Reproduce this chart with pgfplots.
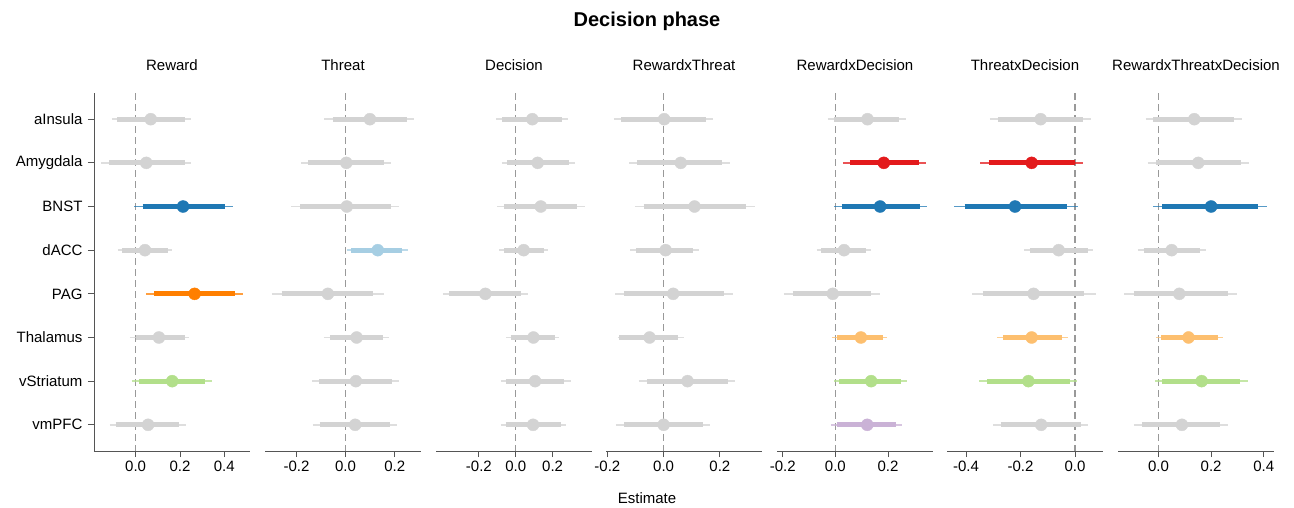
\documentclass[border=0pt]{standalone}
\usepackage{fontspec}
\setmainfont{Liberation Sans}
\usepackage{pgfplots}
\pgfplotsset{compat=1.18}

\definecolor{ngrey}{HTML}{D3D3D3}
\definecolor{nblue}{HTML}{1F78B4}
\definecolor{nred}{HTML}{E31A1C}
\definecolor{norange}{HTML}{FF7F00}
\definecolor{nlgreen}{HTML}{B2DF8A}
\definecolor{nlorange}{HTML}{FDBF6F}
\definecolor{nlblue}{HTML}{A6CEE3}
\definecolor{npurple}{HTML}{CAB2D6}
\definecolor{axisc}{HTML}{555555}
\definecolor{dashc}{HTML}{999999}

% row: y, outer lo, outer hi, inner lo, inner hi, estimate, colour
\newcommand{\fr}[7]{%
  \addplot[#7, no markers, opacity=0.75, line width=1.6pt] coordinates {(#2,#1) (#3,#1)};
  \addplot[#7, no markers, line width=5pt] coordinates {(#4,#1) (#5,#1)};
  \addplot[#7, only marks, mark=*, mark size=6pt] coordinates {(#6,#1)};
}
\newcommand{\zeroline}{%
  \addplot[dashc, no markers, line width=1.1pt, dash pattern=on 7pt off 4pt] coordinates {(0,0.4) (0,8.6)};
}

\pgfplotsset{
  panel/.style={
    scale only axis, width=156pt, height=358pt,
    anchor=south west,
    ymin=0.4, ymax=8.6, y dir=reverse,
    axis x line=bottom,
    axis line style={-, draw=axisc, line width=0.9pt},
    tick align=outside, major tick length=6pt,
    tick style={draw=axisc, line width=0.9pt},
    tick label style={font=\fontsize{15}{18}\selectfont},
    xticklabel style={/pgf/number format/fixed, /pgf/number format/fixed zerofill, /pgf/number format/precision=1},
    /pgf/number format/assume math mode=true,
    title style={font=\fontsize{15}{18}\selectfont, at={(0.5,1)}, anchor=base, yshift=17pt},
    clip=false,
  },
  inner/.style={panel, axis y line=none, ytick=\empty},
}

\begin{document}
\begin{tikzpicture}
\path[use as bounding box] (0,0) rectangle (1294pt,-508pt);

\node[anchor=base, font=\fontsize{20}{24}\selectfont\bfseries] at (647pt,-27pt) {Decision phase};
\node[anchor=base, font=\fontsize{15}{18}\selectfont] at (647pt,-503pt) {Estimate};

% Reward
\begin{axis}[panel, at={(94pt,-451pt)}, title={Reward},
  xmin=-0.188, xmax=0.516, xtick={0,0.2,0.4},
  axis y line=left, ytick={1,...,8},
  y axis line style={-, draw=axisc, line width=0.9pt},
  ytick align=outside, ytick style={draw=axisc, line width=0.9pt},
  yticklabel style={xshift=-2pt},
  yticklabels={aInsula,Amygdala,BNST,dACC,PAG,Thalamus,vStriatum,vmPFC}]
\zeroline
\fr{1}{-0.108}{0.248}{-0.083}{0.224}{0.068}{ngrey}
\fr{2}{-0.156}{0.250}{-0.119}{0.221}{0.048}{ngrey}
\fr{3}{-0.006}{0.438}{0.032}{0.403}{0.214}{nblue}
\fr{4}{-0.081}{0.164}{-0.062}{0.147}{0.042}{ngrey}
\fr{5}{0.047}{0.486}{0.084}{0.450}{0.266}{norange}
\fr{6}{-0.026}{0.239}{0.000}{0.221}{0.105}{ngrey}
\fr{7}{-0.018}{0.343}{0.015}{0.311}{0.165}{nlgreen}
\fr{8}{-0.116}{0.227}{-0.090}{0.197}{0.056}{ngrey}
\end{axis}

% Threat
\begin{axis}[inner, at={(265pt,-451pt)}, title={Threat},
  xmin=-0.328, xmax=0.307, xtick={-0.2,0,0.2}]
\zeroline
\fr{1}{-0.087}{0.279}{-0.053}{0.249}{0.099}{ngrey}
\fr{2}{-0.181}{0.185}{-0.151}{0.155}{0.003}{ngrey}
\fr{3}{-0.222}{0.216}{-0.185}{0.184}{0.005}{ngrey}
\fr{4}{0.007}{0.254}{0.023}{0.230}{0.131}{nlblue}
\fr{5}{-0.301}{0.156}{-0.260}{0.113}{-0.072}{ngrey}
\fr{6}{-0.088}{0.177}{-0.063}{0.152}{0.045}{ngrey}
\fr{7}{-0.135}{0.218}{-0.107}{0.190}{0.042}{ngrey}
\fr{8}{-0.133}{0.210}{-0.106}{0.182}{0.039}{ngrey}
\end{axis}

% Decision
\begin{axis}[inner, at={(436pt,-451pt)}, title={Decision},
  xmin=-0.433, xmax=0.414, xtick={-0.2,0,0.2}]
\zeroline
\fr{1}{-0.107}{0.284}{-0.072}{0.253}{0.090}{ngrey}
\fr{2}{-0.076}{0.319}{-0.047}{0.288}{0.119}{ngrey}
\fr{3}{-0.101}{0.375}{-0.062}{0.335}{0.136}{ngrey}
\fr{4}{-0.089}{0.174}{-0.063}{0.152}{0.043}{ngrey}
\fr{5}{-0.396}{0.069}{-0.360}{0.029}{-0.165}{ngrey}
\fr{6}{-0.051}{0.237}{-0.027}{0.215}{0.096}{ngrey}
\fr{7}{-0.081}{0.300}{-0.054}{0.264}{0.105}{ngrey}
\fr{8}{-0.081}{0.275}{-0.054}{0.246}{0.094}{ngrey}
\end{axis}

% RewardxThreat
\begin{axis}[inner, at={(606pt,-451pt)}, title={RewardxThreat},
  xmin=-0.205, xmax=0.350, xtick={-0.2,0,0.2}]
\zeroline
\fr{1}{-0.178}{0.176}{-0.151}{0.150}{0.002}{ngrey}
\fr{2}{-0.122}{0.236}{-0.094}{0.209}{0.061}{ngrey}
\fr{3}{-0.103}{0.326}{-0.071}{0.292}{0.110}{ngrey}
\fr{4}{-0.119}{0.126}{-0.097}{0.104}{0.007}{ngrey}
\fr{5}{-0.172}{0.247}{-0.141}{0.214}{0.034}{ngrey}
\fr{6}{-0.163}{0.072}{-0.158}{0.051}{-0.050}{ngrey}
\fr{7}{-0.088}{0.253}{-0.058}{0.228}{0.085}{ngrey}
\fr{8}{-0.170}{0.165}{-0.140}{0.139}{0.000}{ngrey}
\end{axis}

% RewardxDecision
\begin{axis}[inner, at={(777pt,-451pt)}, title={RewardxDecision},
  xmin=-0.222, xmax=0.371, xtick={-0.2,0,0.2}]
\zeroline
\fr{1}{-0.029}{0.267}{-0.004}{0.241}{0.122}{ngrey}
\fr{2}{0.028}{0.344}{0.055}{0.316}{0.184}{nred}
\fr{3}{-0.006}{0.347}{0.024}{0.320}{0.170}{nblue}
\fr{4}{-0.070}{0.135}{-0.053}{0.117}{0.033}{ngrey}
\fr{5}{-0.196}{0.169}{-0.163}{0.136}{-0.010}{ngrey}
\fr{6}{-0.013}{0.197}{0.005}{0.180}{0.097}{nlorange}
\fr{7}{-0.006}{0.274}{0.014}{0.251}{0.136}{nlgreen}
\fr{8}{-0.018}{0.255}{0.005}{0.232}{0.121}{npurple}
\end{axis}

% ThreatxDecision
\begin{axis}[inner, at={(947pt,-451pt)}, title={ThreatxDecision},
  xmin=-0.470, xmax=0.103, xtick={-0.4,-0.2,0}]
\zeroline
\fr{1}{-0.313}{0.060}{-0.283}{0.031}{-0.126}{ngrey}
\fr{2}{-0.347}{0.028}{-0.317}{-0.001}{-0.159}{nred}
\fr{3}{-0.444}{0.011}{-0.405}{-0.031}{-0.220}{nblue}
\fr{4}{-0.187}{0.067}{-0.166}{0.048}{-0.060}{ngrey}
\fr{5}{-0.378}{0.078}{-0.339}{0.034}{-0.152}{ngrey}
\fr{6}{-0.287}{-0.024}{-0.265}{-0.046}{-0.159}{nlorange}
\fr{7}{-0.352}{0.009}{-0.322}{-0.020}{-0.171}{nlgreen}
\fr{8}{-0.301}{0.048}{-0.273}{0.021}{-0.124}{ngrey}
\end{axis}

% RewardxThreatxDecision
\begin{axis}[inner, at={(1118pt,-451pt)}, title={RewardxThreatxDecision},
  xmin=-0.154, xmax=0.439, xtick={0,0.2,0.4}]
\zeroline
\fr{1}{-0.048}{0.319}{-0.020}{0.288}{0.136}{ngrey}
\fr{2}{-0.041}{0.343}{-0.009}{0.315}{0.151}{ngrey}
\fr{3}{-0.020}{0.414}{0.014}{0.378}{0.200}{nblue}
\fr{4}{-0.079}{0.180}{-0.057}{0.156}{0.050}{ngrey}
\fr{5}{-0.130}{0.297}{-0.095}{0.264}{0.079}{ngrey}
\fr{6}{-0.010}{0.245}{0.009}{0.225}{0.114}{nlorange}
\fr{7}{-0.014}{0.340}{0.015}{0.310}{0.164}{nlgreen}
\fr{8}{-0.094}{0.264}{-0.061}{0.234}{0.089}{ngrey}
\end{axis}
\end{tikzpicture}
\end{document}
